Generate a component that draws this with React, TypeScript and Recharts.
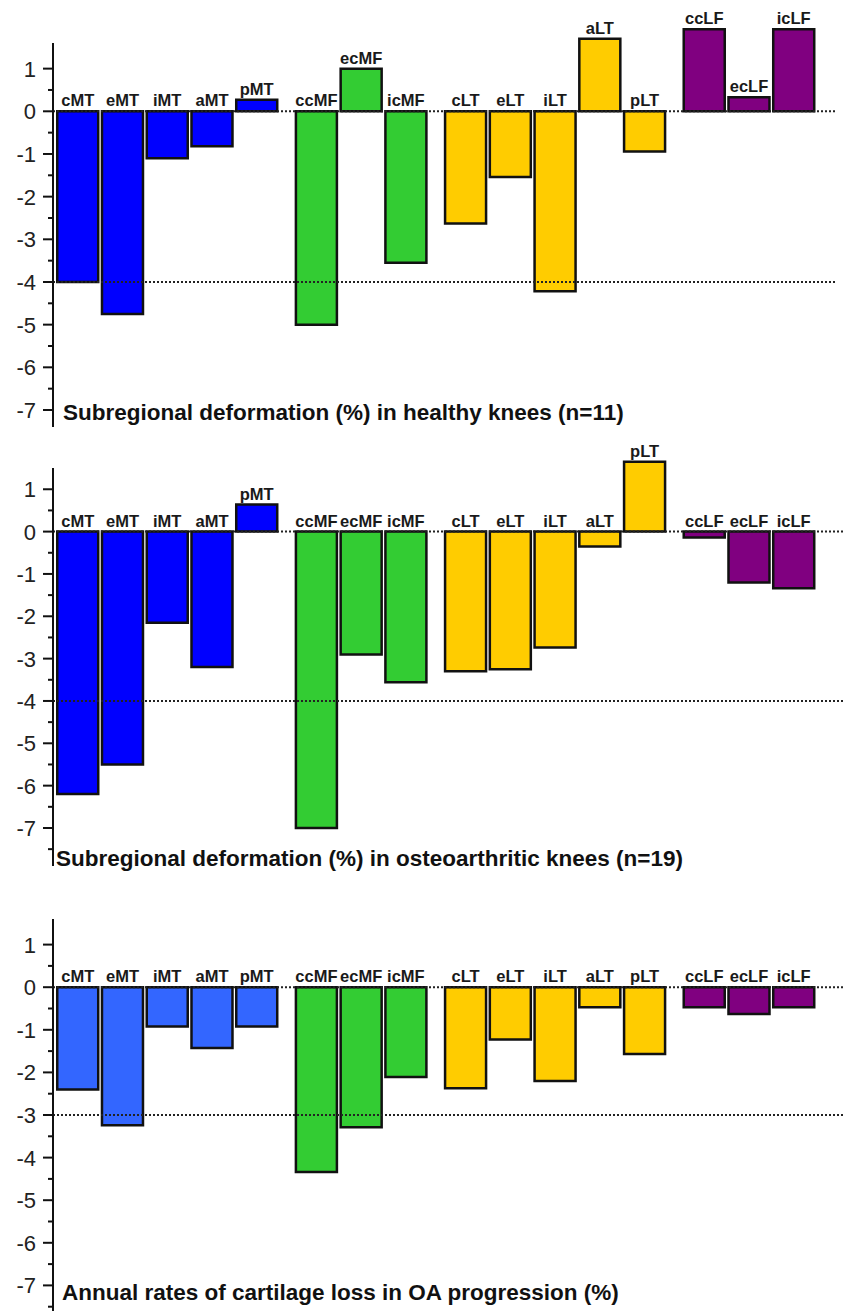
import React from "react";
import { BarChart, Bar, XAxis, YAxis, Cell, LabelList, ReferenceLine } from "recharts";

// subregions, in plot order; GROUPS marks MT / MF / LT / LF blocks
const CATEGORIES = ["cMT", "eMT", "iMT", "aMT", "pMT", "ccMF", "ecMF", "icMF", "cLT", "eLT", "iLT", "aLT", "pLT", "ccLF", "ecLF", "icLF"];
const GROUPS = [0, 0, 0, 0, 0, 1, 1, 1, 2, 2, 2, 2, 2, 3, 3, 3];

const HEALTHY = [-4.0, -4.75, -1.1, -0.82, 0.27, -5.0, 1.0, -3.55, -2.63, -1.54, -4.22, 1.7, -0.94, 1.92, 0.33, 1.92];
const OSTEO = [-6.2, -5.5, -2.15, -3.2, 0.64, -7.0, -2.9, -3.56, -3.3, -3.25, -2.74, -0.35, 1.65, -0.14, -1.2, -1.34];
const LOSS = [-2.4, -3.24, -0.92, -1.43, -0.92, -4.34, -3.29, -2.11, -2.37, -1.23, -2.2, -0.47, -1.57, -0.47, -0.63, -0.47];

const Y_TICKS = [1, 0.5, 0, -0.5, -1, -1.5, -2, -2.5, -3, -3.5, -4, -4.5, -5, -5.5, -6, -6.5, -7, -7.5];

const COLORS_DEF = ["#0000ff", "#33cc33", "#ffcc00", "#800080"];
const COLORS_LOSS = ["#3366ff", "#33cc33", "#ffcc00", "#800080"];

const W = 843;
const AXIS_X = 53;
const SLOT = 44.75; // px per bar slot
const X_MIN = -0.55;
const GROUP_GAP = 1 / 3;
const FONT = "Arial, 'Liberation Sans', sans-serif";

function buildData(values: number[]) {
  return CATEGORIES.map((name, i) => ({ name, pos: i + GROUPS[i] * GROUP_GAP, value: values[i] }));
}

function AxisTick(props: any) {
  const { x, y, payload } = props;
  const v = Number(payload.value);
  const major = Math.abs(v - Math.round(v)) < 1e-6;
  return (
    <g>
      <line x1={x - (major ? 10 : 5)} x2={x} y1={y} y2={y} stroke="#111" strokeWidth={2} />
      {major && (
        <text x={x - 17} y={y + 8} textAnchor="end" fontSize={22} fill="#222" fontFamily={FONT}>
          {v}
        </text>
      )}
    </g>
  );
}

function BarLabel(props: any) {
  const { x, y, width, height, value } = props;
  const top = Math.min(y, y + height);
  return (
    <text x={x + width / 2} y={top - 5} textAnchor="middle" fontSize={16.5} fontWeight="bold" fill="#1a1a1a" fontFamily={FONT}>
      {value}
    </text>
  );
}

type PanelProps = {
  values: number[];
  colors: string[];
  title: string;
  top: number;
  height: number;
  rightPad: number;
  zeroY: number; // page y of value 0
  unit: number; // px per 1 %
  axisRange: [number, number];
  domainTop: number;
  refs: number[];
  titleX: number;
  titleBaseline: number;
};

function Panel({ values, colors, title, top, height, rightPad, zeroY, unit, axisRange, domainTop, refs, titleX, titleBaseline }: PanelProps) {
  const data = buildData(values);
  const plotW = W - AXIS_X - rightPad;
  const xMax = X_MIN + plotW / SLOT;
  const ticks = Y_TICKS.filter((t) => t >= axisRange[0] - 1e-6 && t <= axisRange[1] + 1e-6);
  const mTop = zeroY - domainTop * unit - top;
  const mBottom = height - (zeroY - axisRange[0] * unit - top);
  return (
    <div style={{ position: "absolute", left: 0, top, width: W, height }}>
      <BarChart width={W} height={height} data={data} margin={{ top: mTop, right: rightPad, bottom: mBottom, left: 0 }}>
        <XAxis type="number" dataKey="pos" domain={[X_MIN, xMax]} hide allowDataOverflow />
        <YAxis
          type="number"
          width={AXIS_X}
          domain={[axisRange[0], domainTop]}
          ticks={ticks}
          interval={0}
          tickLine={false}
          tickSize={0}
          tickMargin={0}
          axisLine={false}
          tick={<AxisTick />}
        />
        <Bar dataKey="value" barSize={41} stroke="#111" strokeWidth={2.5} isAnimationActive={false}>
          {data.map((d, i) => (
            <Cell key={d.name} fill={colors[GROUPS[i]]} />
          ))}
          <LabelList dataKey="name" content={<BarLabel />} />
        </Bar>
        {refs.map((r) => (
          <ReferenceLine key={r} y={r} stroke="#222" strokeWidth={2} strokeDasharray="2 2" ifOverflow="visible" />
        ))}
        <ReferenceLine
          segment={[
            { x: X_MIN, y: axisRange[0] },
            { x: X_MIN, y: axisRange[1] },
          ]}
          stroke="#111"
          strokeWidth={2}
          ifOverflow="visible"
        />
      </BarChart>
      <div
        style={{
          position: "absolute",
          left: titleX,
          top: titleBaseline - top - 19,
          fontFamily: FONT,
          fontWeight: "bold",
          fontSize: 22.5,
          lineHeight: 1,
          color: "#111",
          whiteSpace: "nowrap",
        }}
      >
        {title}
      </div>
    </div>
  );
}

export default function App() {
  return (
    <div style={{ position: "absolute", left: 0, top: 0, width: W, height: 1311, background: "#fff", overflow: "hidden" }}>
      <Panel
        values={HEALTHY}
        colors={COLORS_DEF}
        title="Subregional deformation (%) in healthy knees (n=11)"
        top={0}
        height={440}
        rightPad={6}
        zeroY={111.3}
        unit={42.67}
        axisRange={[-7.4, 1.6]}
        domainTop={2.4}
        refs={[0, -4]}
        titleX={63}
        titleBaseline={421}
      />
      <Panel
        values={OSTEO}
        colors={COLORS_DEF}
        title="Subregional deformation (%) in osteoarthritic knees (n=19)"
        top={440}
        height={440}
        rightPad={0}
        zeroY={531.6}
        unit={42.34}
        axisRange={[-7.9, 1.5]}
        domainTop={2.1}
        refs={[0, -4]}
        titleX={56}
        titleBaseline={867}
      />
      <Panel
        values={LOSS}
        colors={COLORS_LOSS}
        title="Annual rates of cartilage loss in OA progression (%)"
        top={880}
        height={431}
        rightPad={0}
        zeroY={987.2}
        unit={42.6}
        axisRange={[-7.6, 1.6]}
        domainTop={2.2}
        refs={[0, -3]}
        titleX={62}
        titleBaseline={1301}
      />
    </div>
  );
}
